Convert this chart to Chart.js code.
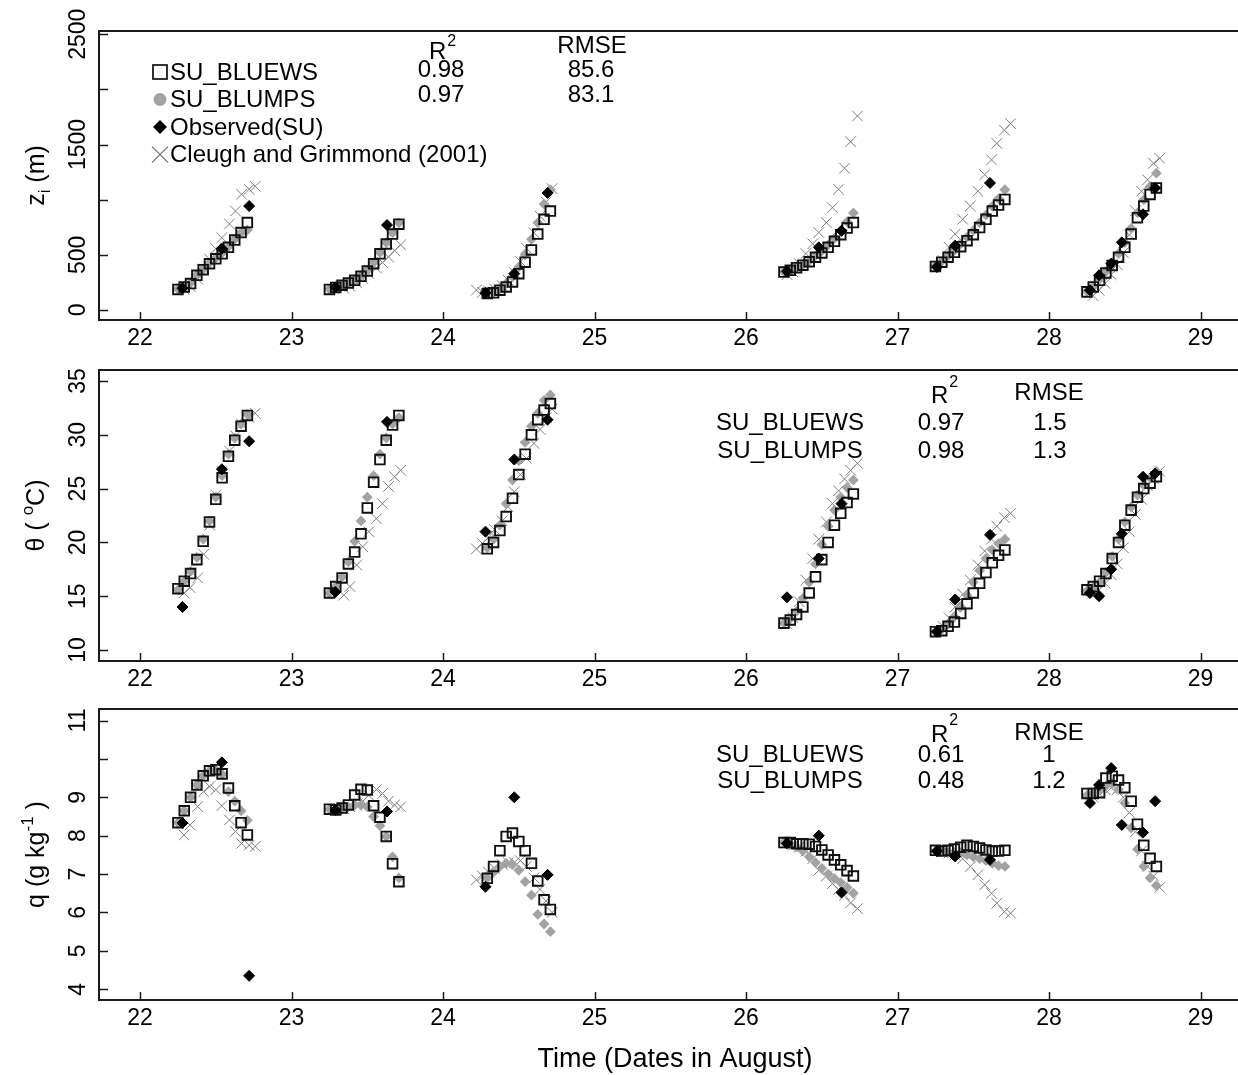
<!DOCTYPE html>
<html>
<head>
<meta charset="utf-8">
<title>zi, theta and q at SU, 22-28 August</title>
<script src="https://cdn.jsdelivr.net/npm/chart.js@4.4.0/dist/chart.umd.min.js"></script>
<style>
  html, body { margin: 0; padding: 0; background: #fff; overflow: hidden; }
  #wrap { position: relative; width: 1238px; height: 1075px; overflow: hidden; }
  #wrap canvas { position: absolute; left: 0; top: 0; }
</style>
</head>
<body>
<div id="wrap">
  <canvas id="ziChart" width="1238" height="1075"></canvas>
  <canvas id="thetaChart" width="1238" height="1075"></canvas>
  <canvas id="qChart" width="1238" height="1075"></canvas>
</div>
<script>
const FONT = '"Liberation Sans", Arial, Helvetica, sans-serif';

// ==============================
// TIMES (days in August)
// ==============================
const MODEL_DAYS  = [22, 23, 24, 26, 27, 28];
const MODEL_FIRST = [6, 6, 7, 6, 6, 6];   // first hourly model output of each day
const MODEL_LAST  = 17;                   // last hourly model output

const OBS_TIMES = [22.28, 22.54, 22.72, 23.29, 23.63, 24.28, 24.47, 24.69,
                   26.27, 26.48, 26.63, 27.26, 27.38, 27.61,
                   28.27, 28.33, 28.41, 28.48, 28.62, 28.70];

const CG_TIMES = [
  22.29, 22.33, 22.38, 22.42, 22.46, 22.50, 22.54, 22.59, 22.63, 22.67, 22.72, 22.76,
  23.345, 23.385, 23.43, 23.47, 23.51, 23.56, 23.60, 23.64, 23.68, 23.72,
  24.22, 24.26, 24.30, 24.34, 24.39, 24.43, 24.47, 24.51, 24.55, 24.60, 24.64, 24.68, 24.72,
  26.27, 26.31, 26.35, 26.395, 26.44, 26.48, 26.53, 26.57, 26.61, 26.65, 26.69, 26.735,
  27.30, 27.34, 27.38, 27.43, 27.48, 27.53, 27.575, 27.62, 27.655, 27.705, 27.746,
  28.29, 28.33, 28.37, 28.41, 28.45, 28.49, 28.53, 28.57, 28.61, 28.65, 28.69, 28.73
];

// ==============================
// zi (m)
// ==============================
const ziObs = [197, 556, 942, 205, 770, 155, 329, 1061, 350, 568, 717, 389, 583, 1151,
               179, 314, 419, 613, 867, 1106];
const ziBluews = [
  186, 209, 239, 314, 365, 419, 464, 509, 568, 634, 702, 792,
  186, 204, 224, 245, 269, 305, 353, 419, 509, 598, 688, 778,
  150, 155, 179, 209, 254, 329, 433, 544, 688, 822, 897,
  344, 359, 383, 406, 437, 478, 517, 568, 622, 682, 742, 792,
  395, 433, 478, 523, 574, 628, 682, 747, 822, 897, 951, 1002,
  164, 209, 269, 335, 404, 478, 568, 688, 837, 942, 1047, 1106
];
const ziBlumps = [
  190, 212, 245, 320, 370, 425, 470, 515, 575, 640, 700, 725,
  190, 205, 225, 248, 272, 310, 360, 430, 520, 610, 700, 790,
  150, 160, 190, 240, 300, 390, 500, 640, 790, 960, 1090,
  345, 360, 385, 410, 445, 490, 535, 590, 650, 720, 800, 880,
  400, 440, 490, 540, 600, 660, 720, 790, 860, 940, 1010, 1090,
  170, 215, 280, 350, 430, 510, 610, 740, 880, 1000, 1120, 1240
];
const ziCg = [
  190, 215, 280, 370, 460, 556, 655, 780, 897, 1049, 1094, 1121,
  195, 215, 245, 285, 330, 380, 430, 480, 540, 590,
  180, 160, 170, 190, 220, 270, 340, 440, 560, 700, 850, 980, 1100,
  320, 344, 421, 511, 600, 702, 792, 927, 1094, 1285, 1525, 1758,
  448, 568, 688, 822, 942, 1076, 1226, 1361, 1510, 1630, 1689,
  130, 179, 240, 320, 410, 520, 680, 900, 1076, 1180, 1330, 1375
];

// ==============================
// theta (deg C)
// ==============================
const thetaObs = [14.0, 26.8, 29.4, 15.4, 31.2, 21.0, 27.7, 31.4, 14.9, 18.5, 23.6,
                  11.7, 14.7, 20.7, 15.3, 15.0, 17.5, 20.8, 26.1, 26.4];
const thetaBluews = [
  15.7, 16.4, 17.1, 18.4, 20.1, 21.9, 24.0, 26.0, 28.0, 29.5, 30.8, 31.8,
  15.3, 15.9, 16.7, 18.0, 19.1, 20.8, 23.2, 25.6, 27.7, 29.5, 30.9, 31.8,
  19.4, 20.0, 21.1, 22.4, 24.1, 26.3, 28.2, 30.0, 31.4, 32.3, 32.9,
  12.5, 12.8, 13.3, 14.0, 15.3, 16.8, 18.4, 20.0, 21.6, 22.7, 23.7, 24.5,
  11.7, 11.8, 12.2, 12.6, 13.4, 14.3, 15.3, 16.2, 17.2, 18.1, 18.8, 19.3,
  15.6, 15.9, 16.4, 17.1, 18.5, 20.0, 21.6, 23.0, 24.2, 25.0, 25.5, 26.1
];
const thetaBlumps = [
  15.6, 16.4, 17.3, 18.6, 20.3, 22.0, 24.2, 26.2, 28.2, 29.7, 31.0, 31.9,
  15.3, 15.9, 16.8, 18.2, 20.1, 22.0, 24.2, 26.2, 28.2, 29.7, 31.0, 31.6,
  19.5, 20.3, 21.6, 23.6, 25.8, 27.6, 29.3, 30.8, 32.0, 33.2, 33.7,
  12.5, 12.9, 13.6, 14.8, 16.3, 18.0, 19.8, 21.5, 23.0, 24.2, 25.1, 25.8,
  11.7, 11.9, 12.4, 13.1, 14.0, 15.1, 16.3, 17.4, 18.5, 19.3, 19.9, 20.3,
  15.5, 15.8, 16.3, 17.2, 18.7, 20.3, 21.9, 23.3, 24.4, 25.3, 26.0, 26.6
];
const thetaCg = [
  15.3, 15.8, 16.7, 18.9, 21.6, 24.4, 26.6, 28.5, 29.9, 31.0, 31.6, 32.0,
  15.1, 15.9, 17.9, 19.6, 21.0, 22.2, 23.6, 25.2, 26.1, 26.7,
  19.4, 19.9, 20.5, 21.2, 22.0, 23.3, 24.7, 26.3, 27.8, 29.2, 30.5, 31.6, 32.4,
  12.4, 13.0, 14.5, 16.5, 18.5, 20.3, 21.9, 23.6, 24.8, 25.9, 26.7, 27.35,
  12.2, 13.0, 14.0, 15.2, 16.5, 17.9, 19.2, 20.3, 21.5, 22.3, 22.7,
  15.3, 15.6, 16.2, 17.0, 18.0, 19.5, 21.0, 22.6, 24.0, 25.3, 25.9, 26.6
];

// ==============================
// q (g/kg)
// ==============================
const qObs = [8.33, 9.91, 4.35, 8.67, 8.63, 6.67, 9.0, 6.98, 7.8, 8.0, 6.52,
              7.6, 7.46, 7.37, 8.85, 9.32, 9.76, 8.28, 8.08, 8.9];
const qBluews = [
  8.34, 8.65, 9.0, 9.32, 9.56, 9.69, 9.72, 9.61, 9.24, 8.78, 8.34, 8.02,
  8.69, 8.67, 8.72, 8.8, 9.06, 9.21, 9.19, 8.78, 8.48, 7.98, 7.27, 6.8,
  6.89, 7.2, 7.61, 7.98, 8.07, 7.85, 7.61, 7.28, 6.82, 6.33, 6.08,
  7.82, 7.82, 7.79, 7.79, 7.78, 7.72, 7.63, 7.5, 7.37, 7.24, 7.09, 6.95,
  7.62, 7.6, 7.62, 7.65, 7.7, 7.75, 7.72, 7.68, 7.63, 7.6, 7.6, 7.62,
  9.1, 9.1, 9.12, 9.5, 9.55, 9.45, 9.25, 8.9, 8.3, 7.75, 7.41, 7.2
];
const qBlumps = [
  8.34, 8.65, 9.0, 9.32, 9.56, 9.69, 9.72, 9.6, 9.15, 8.9, 8.65, 8.4,
  8.69, 8.67, 8.7, 8.75, 8.8, 8.8, 8.75, 8.5, 8.26, 7.98, 7.45, 6.9,
  6.9, 7.05, 7.2, 7.28, 7.25, 7.1, 6.8, 6.45, 5.95, 5.7, 5.5,
  7.82, 7.78, 7.7, 7.6, 7.45, 7.3, 7.15, 7.0, 6.88, 6.78, 6.65, 6.5,
  7.6, 7.58, 7.55, 7.55, 7.55, 7.5, 7.45, 7.4, 7.35, 7.28, 7.22, 7.2,
  9.05, 9.1, 9.2, 9.3, 9.35, 9.2, 8.85, 8.2, 7.65, 7.2, 6.9, 6.7
];
const qCg = [
  8.02, 8.28, 8.76, 9.15, 9.28, 9.2, 8.78, 8.41, 8.11, 7.8, 7.75, 7.72,
  8.7, 8.75, 8.8, 8.9, 9.05, 9.2, 9.1, 8.9, 8.8, 8.75,
  6.85, 6.95, 7.05, 7.15, 7.25, 7.3, 7.3, 7.35, 7.2, 6.9, 6.6, 6.3, 6.0,
  7.8, 7.75, 7.7, 7.6, 7.4, 7.1, 6.95, 6.75, 6.6, 6.45, 6.25, 6.1,
  7.6, 7.55, 7.5, 7.4, 7.2, 6.98, 6.72, 6.5, 6.24, 6.02, 5.98,
  9.0, 9.1, 9.2, 9.25, 9.2, 9.0, 8.6, 8.1, 7.6, 7.2, 6.95, 6.65
];

// ==============================
// TICKS / STATS
// ==============================
const X_TICKS      = [22, 23, 24, 25, 26, 27, 28, 29];
const ZI_TICKS     = [0, 500, 1000, 1500, 2000, 2500];
const ZI_LABELS    = [0, 500, 1500, 2500];
const THETA_TICKS  = [10, 15, 20, 25, 30, 35];
const THETA_LABELS = [10, 15, 20, 25, 30, 35];
const Q_TICKS      = [4, 5, 6, 7, 8, 9, 10, 11];
const Q_LABELS     = [4, 5, 6, 7, 8, 9, 11];

const MODEL_NAMES = ["SU_BLUEWS", "SU_BLUMPS"];
const ZI_R2       = ["0.98", "0.97"];
const ZI_RMSE     = ["85.6", "83.1"];
const THETA_R2    = ["0.97", "0.98"];
const THETA_RMSE  = ["1.5", "1.3"];
const Q_R2        = ["0.61", "0.48"];
const Q_RMSE      = ["1", "1.2"];

const LEGEND_LABELS = ["SU_BLUEWS", "SU_BLUMPS", "Observed(SU)", "Cleugh and Grimmond (2001)"];

// ==============================
// HELPERS
// ==============================
const modelTimes = [];
MODEL_DAYS.forEach((d, i) => {
  for (let h = MODEL_FIRST[i]; h <= MODEL_LAST; h++) modelTimes.push(d + h / 24);
});

function pairs(xs, ys) {
  return xs.map((x, i) => ({ x, y: ys[i] }));
}

const GREY  = "#a3a3a3";
const CROSS = "#7d7d7d";

function seriesSets(obs, bluews, blumps, cg) {
  return [
    { label: "Observed(SU)", data: pairs(OBS_TIMES, obs), order: 0,
      pointStyle: "rectRot", pointRadius: 5.5,
      pointBackgroundColor: "#000", pointBorderColor: "#000", pointBorderWidth: 1 },
    { label: "SU_BLUEWS", data: pairs(modelTimes, bluews), order: 1,
      pointStyle: "rect", pointRadius: 6.8,
      pointBackgroundColor: "rgba(0,0,0,0)", pointBorderColor: "#111", pointBorderWidth: 1.9 },
    { label: "SU_BLUMPS", data: pairs(modelTimes, blumps), order: 2,
      pointStyle: "rectRot", pointRadius: 5.4,
      pointBackgroundColor: GREY, pointBorderColor: GREY, pointBorderWidth: 0 },
    { label: "Cleugh and Grimmond (2001)", data: pairs(CG_TIMES, cg), order: 3,
      pointStyle: "crossRot", pointRadius: 7.5,
      pointBackgroundColor: CROSS, pointBorderColor: CROSS, pointBorderWidth: 1 }
  ];
}

// text made of pieces: [text, size, rise]
function rich(ctx, parts, x, y, align) {
  let w = 0;
  parts.forEach(p => { ctx.font = p[1] + "px " + FONT; w += ctx.measureText(p[0]).width; });
  let cx = align === "center" ? x - w / 2 : x;
  ctx.textAlign = "left";
  ctx.textBaseline = "alphabetic";
  parts.forEach(p => {
    ctx.font = p[1] + "px " + FONT;
    ctx.fillText(p[0], cx, y - (p[2] || 0));
    cx += ctx.measureText(p[0]).width;
  });
}

function text(ctx, s, x, y, size, align) {
  ctx.font = size + "px " + FONT;
  ctx.textAlign = align || "center";
  ctx.textBaseline = "alphabetic";
  ctx.fillText(s, x, y);
}

function statsTable(ctx, t, r2, rmse) {
  ctx.fillStyle = "#000";
  ctx.font = "24px " + FONT;
  text(ctx, "R", t.rLeft, t.rBase, 24, "left");
  const wR = ctx.measureText("R").width;
  text(ctx, "2", t.rLeft + wR + 1, t.supBase, 16, "left");
  text(ctx, "RMSE", t.rmseX, t.rmseBase, 24);
  t.rows.forEach((yb, i) => {
    if (t.nameX) text(ctx, MODEL_NAMES[i], t.nameX, yb, 24);
    text(ctx, r2[i], t.r2X, yb, 24);
    text(ctx, rmse[i], t.valX, yb, 24);
  });
}

function ziLegend(ctx) {
  const sx = 160, tx = 170;
  const rows = [72, 99.5, 127, 154.5];
  ctx.save();
  // open square
  ctx.strokeStyle = "#000"; ctx.lineWidth = 1.6;
  ctx.strokeRect(sx - 7, rows[0] - 7, 14, 14);
  // grey dot
  ctx.fillStyle = GREY;
  ctx.beginPath(); ctx.arc(sx, rows[1], 6.5, 0, Math.PI * 2); ctx.fill();
  // black diamond
  ctx.fillStyle = "#000";
  ctx.beginPath();
  ctx.moveTo(sx - 7, rows[2]); ctx.lineTo(sx, rows[2] - 7);
  ctx.lineTo(sx + 7, rows[2]); ctx.lineTo(sx, rows[2] + 7);
  ctx.closePath(); ctx.fill();
  // cross
  ctx.strokeStyle = CROSS; ctx.lineWidth = 1.2;
  ctx.beginPath();
  ctx.moveTo(sx - 8, rows[3] - 8); ctx.lineTo(sx + 8, rows[3] + 8);
  ctx.moveTo(sx + 8, rows[3] - 8); ctx.lineTo(sx - 8, rows[3] + 8);
  ctx.stroke();
  ctx.fillStyle = "#000";
  ctx.font = "24px " + FONT;
  ctx.textAlign = "left";
  ctx.textBaseline = "middle";
  LEGEND_LABELS.forEach((l, i) => ctx.fillText(l, tx, rows[i] + 1));
  ctx.restore();
}

function axesPlugin(cfg) {
  return {
    id: "rAxes",
    beforeDatasetsDraw(chart) {
      const { ctx, chartArea: a, scales: { x, y } } = chart;
      ctx.save();
      // box: left, top and bottom sides (the right side falls off the page)
      ctx.strokeStyle = "#1a1a1a";
      ctx.lineWidth = 2;
      ctx.beginPath();
      ctx.moveTo(a.right + 2, a.top); ctx.lineTo(a.left, a.top);
      ctx.lineTo(a.left, a.bottom); ctx.lineTo(a.right + 2, a.bottom);
      ctx.stroke();
      ctx.lineWidth = 1.5;
      ctx.beginPath();
      X_TICKS.forEach(v => {
        const px = Math.round(x.getPixelForValue(v)) + 0.5;
        ctx.moveTo(px, a.bottom); ctx.lineTo(px, a.bottom - 8);
      });
      cfg.yTicks.forEach(v => {
        const py = Math.round(y.getPixelForValue(v)) + 0.5;
        ctx.moveTo(a.left, py); ctx.lineTo(a.left + 9, py);
      });
      ctx.stroke();
      ctx.restore();
    },
    afterDatasetsDraw(chart) {
      const { ctx, chartArea: a, scales: { x, y } } = chart;
      ctx.save();
      ctx.fillStyle = "#000";
      X_TICKS.forEach(v => text(ctx, String(v), x.getPixelForValue(v), a.bottom + 24.5, 23));
      cfg.yLabels.forEach(v => {
        ctx.save();
        ctx.translate(85, y.getPixelForValue(v));
        ctx.rotate(-Math.PI / 2);
        text(ctx, String(v), 0, 0, 23);
        ctx.restore();
      });
      ctx.save();
      ctx.translate(44, (a.top + a.bottom) / 2);
      ctx.rotate(-Math.PI / 2);
      rich(ctx, cfg.title, 0, 0, "center");
      ctx.restore();
      if (cfg.extra) cfg.extra(ctx, a);
      ctx.restore();
    }
  };
}

// ==============================
// PANELS
// ==============================
const X_MIN = 21.729, X_MAX = 29.247;

function makePanel(id, cfg) {
  return new Chart(document.getElementById(id), {
    type: "scatter",
    data: { datasets: cfg.sets },
    options: {
      responsive: false,
      animation: false,
      devicePixelRatio: 1,
      events: [],
      layout: {
        autoPadding: false,
        padding: { left: 99, right: 0, top: cfg.top, bottom: 1075 - cfg.bottom }
      },
      plugins: { legend: { display: false }, tooltip: { enabled: false } },
      scales: {
        x: { type: "linear", display: false, min: X_MIN, max: X_MAX },
        y: { type: "linear", display: false, min: cfg.yMin, max: cfg.yMax }
      }
    },
    plugins: [axesPlugin(cfg)]
  });
}

makePanel("ziChart", {
  top: 31, bottom: 320, yMin: -91, yMax: 2529,
  yTicks: ZI_TICKS, yLabels: ZI_LABELS,
  title: [["z", 25], ["i", 17, -6], [" (m)", 25]],
  sets: seriesSets(ziObs, ziBluews, ziBlumps, ziCg),
  extra: ctx => {
    ziLegend(ctx);
    statsTable(ctx, { rLeft: 429, rBase: 59, supBase: 46, rmseX: 592, rmseBase: 53,
                      r2X: 441, valX: 591, rows: [77, 102] }, ZI_R2, ZI_RMSE);
  }
});

makePanel("thetaChart", {
  top: 370, bottom: 661, yMin: 8.98, yMax: 36.02,
  yTicks: THETA_TICKS, yLabels: THETA_LABELS,
  title: [["\u03b8 ( ", 25], ["o", 17, 11], ["C)", 25]],
  sets: seriesSets(thetaObs, thetaBluews, thetaBlumps, thetaCg),
  extra: ctx => statsTable(ctx, { rLeft: 931, rBase: 403, supBase: 387, rmseX: 1049, rmseBase: 400,
                                  r2X: 941, valX: 1050, rows: [430, 458], nameX: 790 },
                           THETA_R2, THETA_RMSE)
});

makePanel("qChart", {
  top: 709, bottom: 1000, yMin: 3.72, yMax: 11.3,
  yTicks: Q_TICKS, yLabels: Q_LABELS,
  title: [["q (g kg", 25], ["-1", 17, 11], [" )", 25]],
  sets: seriesSets(qObs, qBluews, qBlumps, qCg),
  extra: (ctx, a) => {
    statsTable(ctx, { rLeft: 931, rBase: 742, supBase: 725, rmseX: 1049, rmseBase: 740,
                      r2X: 941, valX: 1049, rows: [762, 788], nameX: 790 }, Q_R2, Q_RMSE);
    text(ctx, "Time (Dates in August)", 675, 1067, 27);
  }
});
</script>
</body>
</html>
